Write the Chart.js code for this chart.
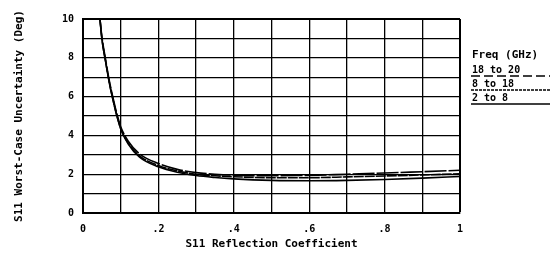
<!DOCTYPE html>
<html>
<head>
<meta charset="utf-8">
<script src="https://cdn.jsdelivr.net/npm/chart.js@4/dist/chart.umd.min.js"></script>
<style>
    html, body { margin: 0; padding: 0; background: #fff; }
    #wrap { width: 552px; height: 256px; }
</style>
</head>
<body>
<div id="wrap"><canvas id="s11Chart"></canvas></div>
<script>
// Reflection coefficient (x) and worst-case uncertainty per band (deg)
const reflCoef = [0.045, 0.05, 0.06, 0.07, 0.08, 0.09, 0.1, 0.12, 0.15, 0.2, 0.25, 0.3, 0.35, 0.4, 0.5, 0.6, 0.7, 0.8, 0.9, 1.0];
const band18to20 = [10, 9.1, 7.9, 6.8, 5.9, 5.1, 4.45, 3.7, 3.05, 2.55, 2.25, 2.08, 2.0, 1.95, 1.92, 1.94, 2.0, 2.06, 2.13, 2.2];
const band8to18 = [10, 9.0, 7.8, 6.7, 5.8, 5.0, 4.35, 3.6, 2.95, 2.45, 2.17, 2.0, 1.92, 1.87, 1.82, 1.82, 1.86, 1.91, 1.96, 2.02];
const band2to8 = [10, 9.0, 7.8, 6.7, 5.8, 5.0, 4.35, 3.55, 2.88, 2.38, 2.1, 1.93, 1.83, 1.76, 1.68, 1.66, 1.68, 1.73, 1.8, 1.88];

const bandLabels = ['18 to 20', '8 to 18', '2 to 8'];
// dash patterns: curves look almost solid at this size, legend shows the pattern
const curveDashes = [[22, 2], [10, 1], []];
const legendDashes = [[9, 4], [3, 1], []];

const plotFont = 'DejaVu Sans Mono';

function toPoints(values) {
    return reflCoef.map((x, i) => ({ x: x, y: values[i] }));
}

// Legend drawn at the right of the plot, text with underline samples
const sideLegend = {
    id: 'sideLegend',
    afterDraw(chart) {
        const ctx = chart.ctx;
        const x0 = 472;
        ctx.save();
        ctx.fillStyle = '#000';
        ctx.strokeStyle = '#000';
        ctx.textBaseline = 'middle';
        ctx.font = 'bold 11px ' + plotFont;
        ctx.fillText('Freq (GHz)', x0, 55);
        ctx.font = 'bold 10px ' + plotFont;
        const rows = [70, 84, 98];
        bandLabels.forEach((label, i) => {
            ctx.fillText(label, x0, rows[i]);
            ctx.beginPath();
            ctx.lineWidth = 1.3;
            ctx.setLineDash(legendDashes[i]);
            ctx.moveTo(x0 - 1, rows[i] + 6);
            ctx.lineTo(550, rows[i] + 6);
            ctx.stroke();
        });
        ctx.restore();
    }
};

function makeDataset(label, values, dash) {
    return {
        label: label,
        data: toPoints(values),
        borderColor: '#000',
        borderWidth: 1.6,
        borderDash: dash,
        pointRadius: 0,
        fill: false,
        cubicInterpolationMode: 'monotone'
    };
}

const ctx = document.getElementById('s11Chart').getContext('2d');
new Chart(ctx, {
    type: 'line',
    data: {
        datasets: [
            makeDataset(bandLabels[0], band18to20, curveDashes[0]),
            makeDataset(bandLabels[1], band8to18, curveDashes[1]),
            makeDataset(bandLabels[2], band2to8, curveDashes[2])
        ]
    },
    options: {
        responsive: true,
        maintainAspectRatio: false,
        animation: false,
        layout: { padding: { top: 19, right: 92, left: 0, bottom: 0 } },
        plugins: {
            legend: { display: false },
            tooltip: { enabled: false }
        },
        scales: {
            x: {
                type: 'linear',
                min: 0,
                max: 1,
                afterFit: s => { s.height = 43; },
                border: { color: '#000', width: 2 },
                grid: {
                    color: '#000',
                    lineWidth: c => (c.tick && c.tick.value === 1 ? 2 : 1.3),
                    drawTicks: false
                },
                ticks: {
                    stepSize: 0.1,
                    padding: 10,
                    color: '#000',
                    font: { family: plotFont, size: 10, weight: 'bold' },
                    callback: function(v) {
                        const t = Math.round(v * 10);
                        if (t % 2 !== 0) return '';
                        if (t === 0) return '0';
                        if (t === 10) return '1';
                        return '.' + t;
                    }
                },
                title: {
                    display: true,
                    text: 'S11 Reflection Coefficient',
                    color: '#000',
                    font: { family: plotFont, size: 11, weight: 'bold' },
                    padding: { top: 0, bottom: 5 }
                }
            },
            y: {
                min: 0,
                max: 10,
                afterFit: s => { s.width = 83; },
                border: { color: '#000', width: 2 },
                grid: {
                    color: '#000',
                    lineWidth: c => (c.tick && c.tick.value === 10 ? 2 : 1.3),
                    drawTicks: false
                },
                ticks: {
                    stepSize: 1,
                    padding: 9,
                    color: '#000',
                    font: { family: plotFont, size: 10, weight: 'bold' },
                    callback: v => (v % 2 === 0 ? String(v) : '')
                },
                title: {
                    display: true,
                    text: 'S11 Worst-Case Uncertainty (Deg)',
                    color: '#000',
                    font: { family: plotFont, size: 11, weight: 'bold' },
                    padding: { top: 13, bottom: 0 }
                }
            }
        }
    },
    plugins: [sideLegend]
});
</script>
</body>
</html>
